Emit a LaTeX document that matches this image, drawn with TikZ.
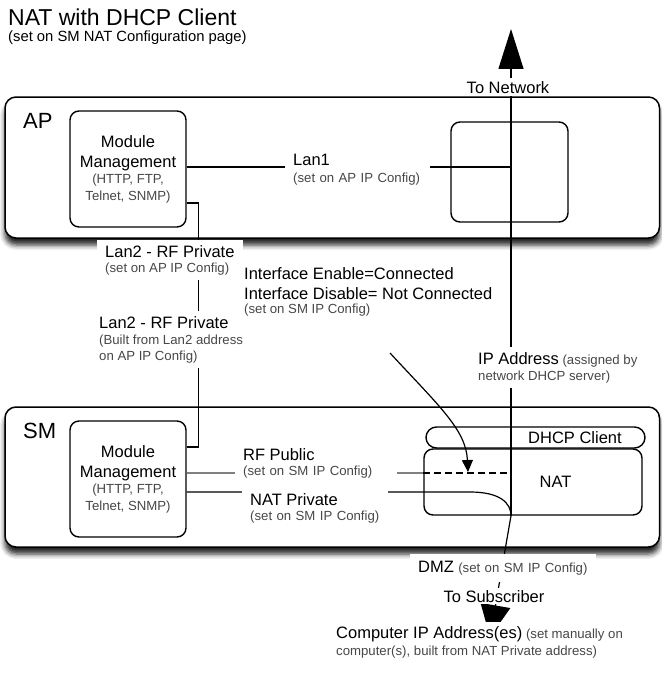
\documentclass[tikz,border=0pt]{standalone}
\usepackage{fontspec}
\setmainfont{Liberation Sans}
\usetikzlibrary{arrows.meta,shadows.blur}

\newcommand{\bigtxt}{\fontsize{16.5}{20}\selectfont\color{black}}
\newcommand{\smalltxt}{\fontsize{13.2}{16}\selectfont\color{black!72}}

\tikzset{
  unit/.style={draw, line width=1.5pt, rounded corners=11pt, fill=white,
    blur shadow={shadow xshift=0pt, shadow yshift=-7pt, shadow blur radius=5pt, shadow opacity=85}},
  module/.style={draw, line width=1.4pt, rounded corners=9pt, minimum width=116pt,
    minimum height=116pt, align=center, font=\bigtxt},
  box/.style={draw, line width=1.4pt, rounded corners=9pt},
  wire/.style={line width=1.2pt},
  lbl/.style={fill=white, anchor=base west, align=left, inner xsep=8pt, inner ysep=4pt, font=\smalltxt},
}

\begin{document}
\begin{tikzpicture}[x=1pt,y=-1pt]
      \useasboundingbox (0,0) rectangle (661,677);

      \node[unit, minimum width=654.5pt, minimum height=141pt] (ap) at (332.25,167.5) {};
      \node[unit, minimum width=654.5pt, minimum height=140pt] (sm) at (332.25,477) {};

      \node[module] (apmod) at (128,169) {Module\\Management\\[-4pt]{\smalltxt (HTTP, FTP,}\\[-3pt]{\smalltxt Telnet, SNMP)}};
      \node[module] (smmod) at (128,479) {Module\\Management\\[-4pt]{\smalltxt (HTTP, FTP,}\\[-3pt]{\smalltxt Telnet, SNMP)}};
      \node[box, minimum width=117pt, minimum height=100pt] (apport) at (509.5,172) {};
      \node[box, rounded corners=10.5pt, minimum width=219pt, minimum height=21pt,
        label={[font=\bigtxt, xshift=39.5pt]center:DHCP Client}] (dhcp) at (535.5,437.5) {};
      \node[box, minimum width=218pt, minimum height=66pt,
        label={[font=\bigtxt, xshift=22.5pt]center:NAT}] (nat) at (533,482) {};

      \coordinate (nettop) at (511,29);
      \coordinate (nb) at (nat.south -| nettop);
      \coordinate (subtip) at (490,637);
      \coordinate (ifstart) at (390,353);
      \coordinate (ifend) at (468,472);

      \draw[wire, -{Triangle[width=25pt,length=40pt]}] (nb) -- (nettop);
      \draw[wire] ([yshift=2pt]apmod.east) -- ([yshift=2pt]apmod.east -| nettop);
      \draw[wire] ([yshift=-34pt]apmod.east) -- ++(12,0) |- ([yshift=32pt]smmod.east);
      \draw[wire, gray] ([yshift=6pt]smmod.east) -- ([yshift=6pt]smmod.east -| nat.west);
      \draw[wire, dash pattern=on 7pt off 4pt] ([yshift=6pt]smmod.east -| nat.west) -- ([yshift=6pt]smmod.east -| nettop);
      \draw[wire, -{Triangle[width=30pt,length=32pt]}] ([yshift=-13pt]smmod.east) -- (470,492)
        .. controls (500,492) and (511,503) .. (nb) -- (subtip);
      \draw[wire, -{Triangle[width=11pt,length=12pt]}] (ifstart) .. controls (440,407) and (466,430) .. (ifend);

      \node[anchor=base west, inner sep=0, font=\fontsize{23}{26}\selectfont] (title) at (8,26) {NAT with DHCP Client};
      \node[anchor=base west, inner sep=0, font=\fontsize{14.8}{17}\selectfont] (subtitle) at (8,42) {(set on SM NAT Configuration page)};
      \node[anchor=base west, inner sep=0, font=\fontsize{22}{26}\selectfont] (aplbl) at (23,128) {AP};
      \node[anchor=base west, inner sep=0, font=\fontsize{22}{26}\selectfont] (smlbl) at (23,438) {SM};

      \node[lbl, anchor=base, font=\bigtxt, inner ysep=3pt] (tonet) at (508,93) {To Network};
      \node[lbl, text width=129pt] (lan1) at (285,165) {{\bigtxt Lan1}\\[1pt](set on AP IP Config)};
      \node[lbl, inner ysep=5pt] (lan2ap) at (97,272) {{\bigtxt Lan2 - RF Private}\\[-1pt](set on AP IP Config)};
      \node[lbl, inner ysep=5pt] (lan2sm) at (91,360) {{\bigtxt Lan2 - RF Private}\\(Built from Lan2 address\\on AP IP Config)};
      \node[lbl] (iface) at (236,313) {{\bigtxt Interface Enable=Connected}\\[4pt]{\bigtxt Interface Disable= Not Connected}\\[-2pt](set on SM IP Config)};
      \node[lbl, inner ysep=5pt] (ipaddr) at (470,380) {{\bigtxt IP Address} (assigned by\\network DHCP server)};
      \node[lbl, inner ysep=3pt, text width=146pt] (rfpub) at (235,460) {{\bigtxt RF Public}\\[-1pt](set on SM IP Config)};
      \node[lbl, inner ysep=3pt, text width=130pt] (natpriv) at (242,505) {{\bigtxt NAT Private}\\[-1pt](set on SM IP Config)};
      \node[lbl, inner ysep=7pt, text width=170pt] (dmz) at (410,572) {{\bigtxt DMZ} (set on SM IP Config)};
      \node[lbl, anchor=base, font=\bigtxt, inner ysep=2pt] (tosub) at (494,602) {To Subscriber};
      \node[lbl] (comp) at (328,655) {{\bigtxt Computer IP Address(es)} (set manually on\\[1pt]computer(s), built from NAT Private address)};
\end{tikzpicture}
\end{document}
